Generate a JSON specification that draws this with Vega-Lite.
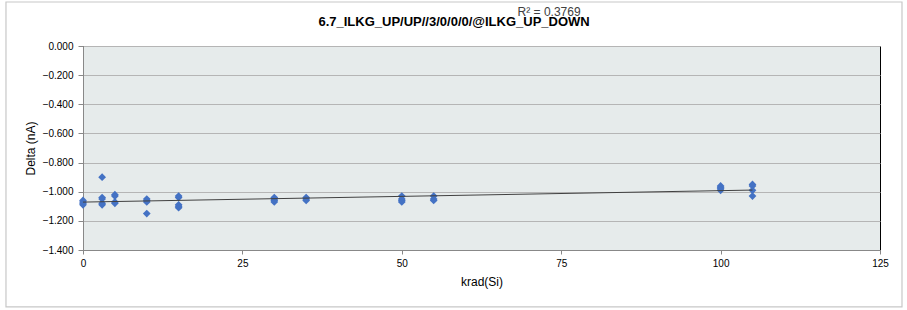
{
  "$schema": "https://vega.github.io/schema/vega-lite/v6.json",
  "width": 797,
  "height": 204,
  "autosize": "none",
  "padding": {"left": 83, "top": 46, "right": 27, "bottom": 60},
  "background": "white",
  "config": {
    "view": {"fill": "#e6ebeb", "stroke": "#000000", "strokeWidth": 1},
    "axis": {
      "labelFont": "Liberation Sans",
      "labelFontSize": 10,
      "labelColor": "#000000",
      "labelOverlap": false,
      "labelFlush": false,
      "titleFont": "Liberation Sans",
      "titleFontSize": 12,
      "titleFontWeight": "normal",
      "titleColor": "#000000",
      "domainColor": "#888888",
      "tickColor": "#888888",
      "gridColor": "#b5b5b5",
      "gridWidth": 1.2
    }
  },
  "data": {
    "values": [
      {"krad": 0, "delta": -1.06}, {"krad": 0, "delta": -1.07}, {"krad": 0, "delta": -1.08}, {"krad": 0, "delta": -1.09},
      {"krad": 3, "delta": -0.90}, {"krad": 3, "delta": -1.04}, {"krad": 3, "delta": -1.05}, {"krad": 3, "delta": -1.08}, {"krad": 3, "delta": -1.09},
      {"krad": 5, "delta": -1.02}, {"krad": 5, "delta": -1.03}, {"krad": 5, "delta": -1.07}, {"krad": 5, "delta": -1.08},
      {"krad": 10, "delta": -1.05}, {"krad": 10, "delta": -1.06}, {"krad": 10, "delta": -1.07}, {"krad": 10, "delta": -1.15},
      {"krad": 15, "delta": -1.03}, {"krad": 15, "delta": -1.04}, {"krad": 15, "delta": -1.09}, {"krad": 15, "delta": -1.10}, {"krad": 15, "delta": -1.11},
      {"krad": 30, "delta": -1.04}, {"krad": 30, "delta": -1.05}, {"krad": 30, "delta": -1.06}, {"krad": 30, "delta": -1.07},
      {"krad": 35, "delta": -1.04}, {"krad": 35, "delta": -1.05}, {"krad": 35, "delta": -1.06},
      {"krad": 50, "delta": -1.03}, {"krad": 50, "delta": -1.05}, {"krad": 50, "delta": -1.06}, {"krad": 50, "delta": -1.07},
      {"krad": 55, "delta": -1.03}, {"krad": 55, "delta": -1.05}, {"krad": 55, "delta": -1.06},
      {"krad": 100, "delta": -0.96}, {"krad": 100, "delta": -0.97}, {"krad": 100, "delta": -0.98}, {"krad": 100, "delta": -0.99},
      {"krad": 105, "delta": -0.95}, {"krad": 105, "delta": -0.96}, {"krad": 105, "delta": -0.99}, {"krad": 105, "delta": -1.03}
    ]
  },
  "layer": [
    {
      "mark": {"type": "point", "shape": "diamond", "filled": true, "color": "#4472c4", "size": 60, "opacity": 1},
      "encoding": {
        "x": {
          "field": "krad", "type": "quantitative",
          "scale": {"domain": [0, 125], "nice": false, "zero": false},
          "axis": {"values": [0, 25, 50, 75, 100, 125], "tickCount": 20, "title": "krad(Si)", "grid": false, "tickSize": 4, "labelPadding": 4, "titlePadding": 8}
        },
        "y": {
          "field": "delta", "type": "quantitative",
          "scale": {"domain": [-1.4, 0], "nice": false, "zero": false},
          "axis": {"values": [0, -0.2, -0.4, -0.6, -0.8, -1.0, -1.2, -1.4], "tickCount": 20, "format": ".3f", "title": "Delta (nA)", "grid": true, "tickSize": 5, "labelPadding": 5, "titlePadding": 5}
        }
      }
    },
    {
      "transform": [{"regression": "delta", "on": "krad", "method": "linear"}],
      "mark": {"type": "line", "color": "#404040", "strokeWidth": 1},
      "encoding": {
        "x": {"field": "krad", "type": "quantitative"},
        "y": {"field": "delta", "type": "quantitative"}
      }
    },
    {
      "data": {"values": [{}]},
      "mark": {"type": "rect", "fill": null, "stroke": "#c8c8c8", "strokeWidth": 1.2, "clip": false},
      "encoding": {
        "x": {"datum": -12.08, "type": "quantitative"},
        "x2": {"datum": 128.45},
        "y": {"datum": 0.302, "type": "quantitative"},
        "y2": {"datum": -1.791}
      }
    },
    {
      "data": {"values": [{}]},
      "mark": {"type": "text", "text": "6.7_ILKG_UP/UP//3/0/0/0/@ILKG_UP_DOWN", "font": "Liberation Sans", "fontSize": 13, "fontWeight": "bold", "color": "#000000", "baseline": "middle", "clip": false},
      "encoding": {
        "x": {"datum": 58.2, "type": "quantitative"},
        "y": {"datum": 0.165, "type": "quantitative"}
      }
    },
    {
      "data": {"values": [{}]},
      "mark": {"type": "text", "text": "R² = 0.3769", "font": "Liberation Sans", "fontSize": 12, "color": "#404040", "baseline": "middle", "clip": false},
      "encoding": {
        "x": {"datum": 73.1, "type": "quantitative"},
        "y": {"datum": 0.235, "type": "quantitative"}
      }
    }
  ]
}
